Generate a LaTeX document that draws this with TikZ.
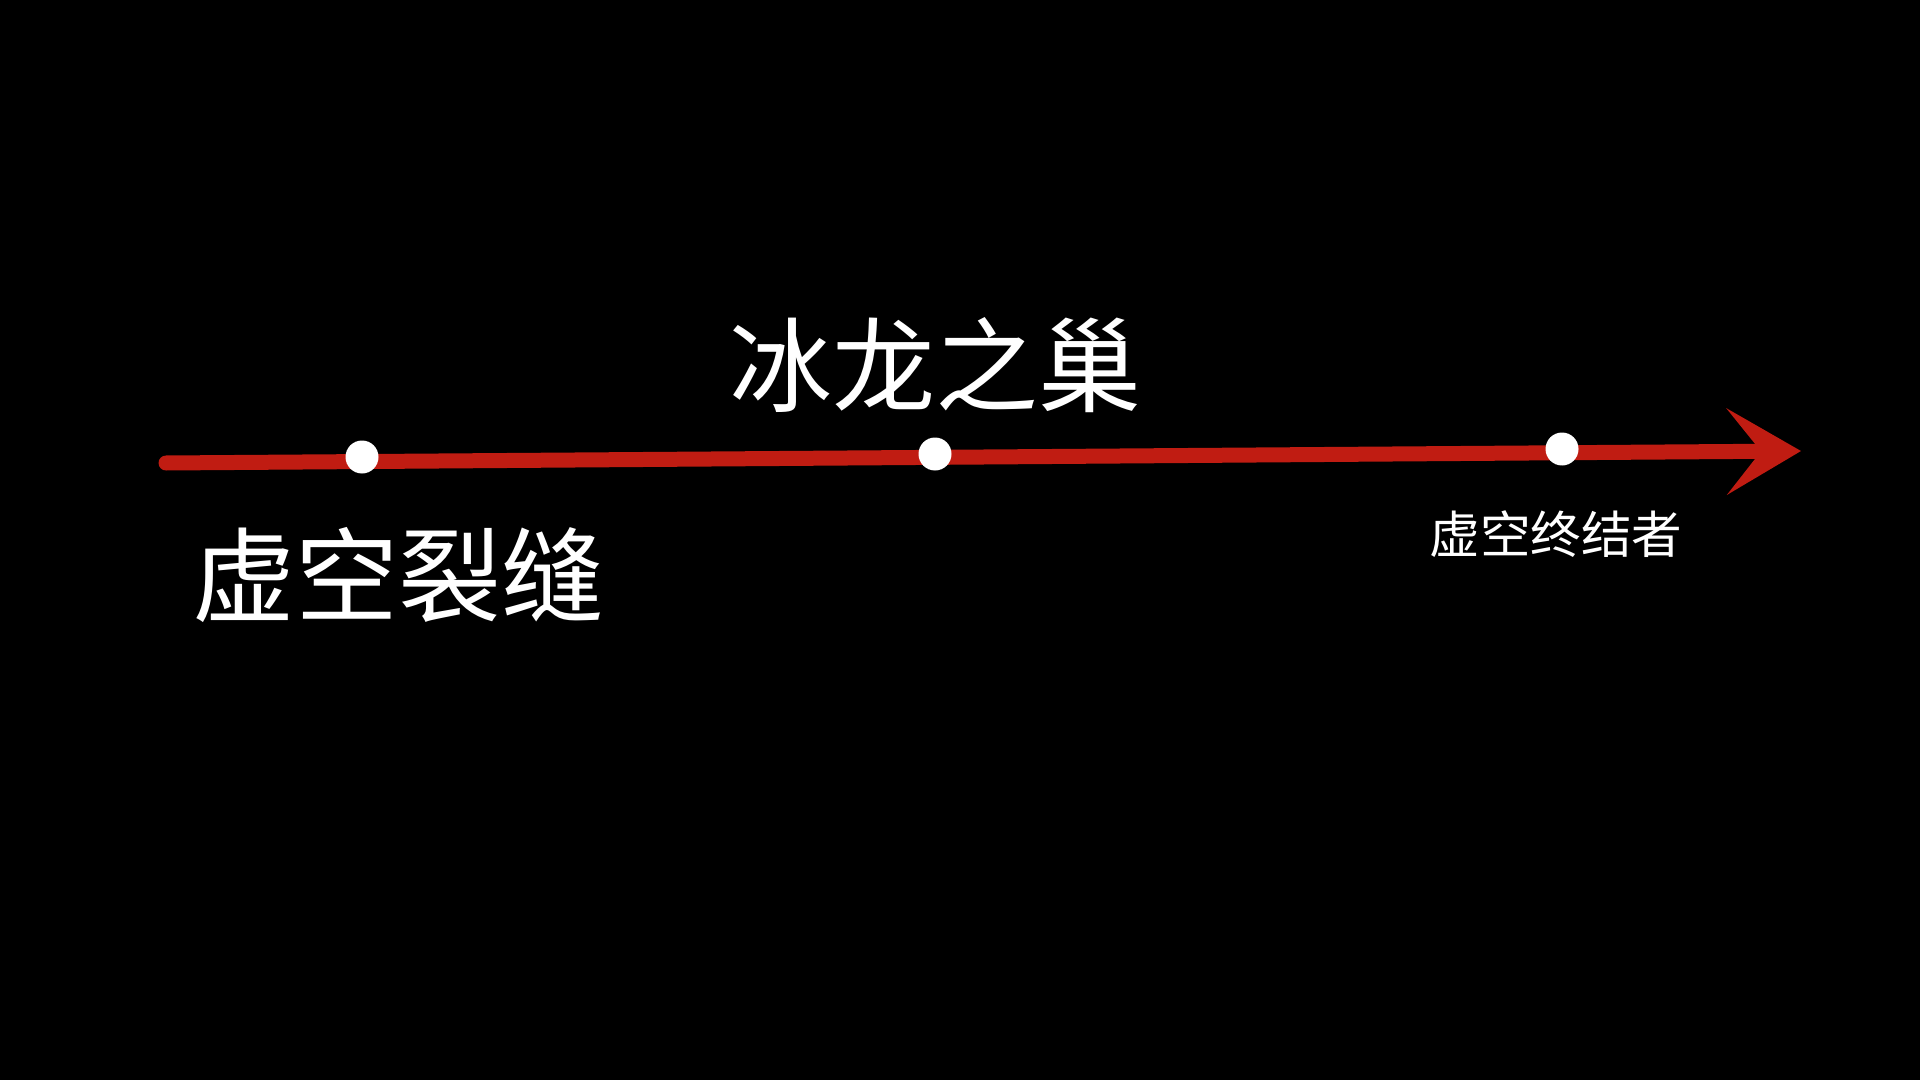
\documentclass[tikz,border=0pt]{standalone}
\usepackage{fontspec}
\newfontfamily\cjk{Noto Sans CJK SC}
\usetikzlibrary{arrows.meta}
\definecolor{linered}{RGB}{192,28,18}
\tikzset{
  px/.style={x=0.5pt,y=-0.5pt},
  dot/.style={circle,fill=white,inner sep=0pt,minimum size=16.5pt},
  bigtxt/.style={text=white,font=\cjk\fontsize{51.5pt}{51.5pt}\selectfont,inner sep=0pt},
  smalltxt/.style={text=white,font=\cjk\fontsize{25.3pt}{25.3pt}\selectfont,inner sep=0pt},
  timeline/.style={draw=linered,line width=7.5pt,line cap=round,
    -{Stealth[length=37pt,width=43pt,inset=17pt,line cap=butt,fill=linered]}}
}
\begin{document}
\begin{tikzpicture}[px]
\fill[black] (0,0) rectangle (1920,1080);
\useasboundingbox (0,0) rectangle (1920,1080);
\coordinate (start) at (166,463);
\coordinate (end) at (1801,451);
\draw[timeline] (start) -- (end);
\node[dot] (d1) at (362,457) {};
\node[dot] (d2) at (935,454) {};
\node[dot] (d3) at (1562,449) {};
\node[bigtxt] (t1) at (398,575) {虚空裂缝};
\node[bigtxt] (t2) at (935,365) {冰龙之巢};
\node[smalltxt] (t3) at (1556,534) {虚空终结者};
\end{tikzpicture}
\end{document}
